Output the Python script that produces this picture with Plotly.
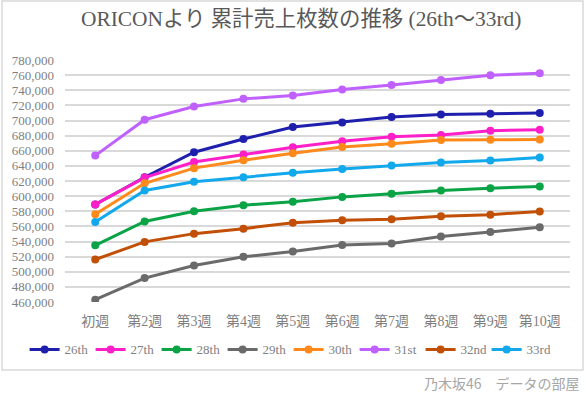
import plotly.graph_objects as go

weeks = ["初週", "第2週", "第3週", "第4週", "第5週", "第6週", "第7週", "第8週", "第9週", "第10週"]

s26 = [589000, 625000, 658000, 675500, 691500, 697500, 704500, 708000, 709000, 710000]
s27 = [589000, 624500, 645000, 655000, 664500, 672500, 678500, 680800, 686500, 687800]
s28 = [535000, 566500, 580000, 588000, 592600, 599000, 603000, 607500, 610500, 612800]
s29 = [463000, 491600, 508300, 519700, 526700, 535500, 537300, 546500, 552600, 558800]
s30 = [576000, 617000, 637000, 647400, 656700, 665000, 669400, 674200, 674500, 675000]
s31 = [653600, 701000, 718500, 728600, 733000, 741000, 747000, 753700, 759800, 762400]
s32 = [516200, 539500, 550400, 557000, 564900, 568000, 569300, 573300, 575500, 579800]
s33 = [565800, 607500, 619000, 625000, 630800, 636000, 640400, 644400, 647000, 651000]

series_names = ["26th", "27th", "28th", "29th", "30th", "31st", "32nd", "33rd"]
series_values = [s26, s27, s28, s29, s30, s31, s32, s33]
colors = ["#1f1fae", "#ff1fc8", "#0aa346", "#6a6a6a", "#ff8a1c", "#c060ff", "#c24f06", "#12a8ec"]

y_ticks = list(range(460000, 780001, 20000))

SERIF = "'Liberation Serif', 'Times New Roman', 'Noto Sans CJK JP', serif"

fig = go.Figure()
for name, vals, col in zip(series_names, series_values, colors):
    fig.add_trace(go.Scatter(
        x=weeks, y=vals, name=name, mode="lines+markers",
        line=dict(color=col, width=3),
        marker=dict(color=col, size=8),
    ))

fig.update_layout(
    width=586, height=396,
    margin=dict(l=65, r=16, t=60, b=94, autoexpand=False),
    paper_bgcolor="white", plot_bgcolor="white",
    title=dict(text="ORICONより 累計売上枚数の推移 (26th～33rd)",
               x=0.514, xanchor="center", y=0.952, yanchor="middle",
               font=dict(family=SERIF, size=21.4, color="#595959")),
    xaxis=dict(showgrid=False, showline=False, zeroline=False, ticks="",
               ticklabelstandoff=9,
               tickfont=dict(family=SERIF, size=14, color="#7f7f7f")),
    yaxis=dict(range=[460000, 780000], tickvals=y_ticks,
               ticktext=[f"{v:,}" for v in y_ticks],
               showgrid=True, gridcolor="#d9d9d9", gridwidth=1.5,
               zeroline=False, showline=False, ticks="",
               ticklabelstandoff=10,
               tickfont=dict(family=SERIF, size=13, color="#7f7f7f")),
    legend=dict(orientation="h", x=-0.08, xanchor="left",
                y=-0.196, yanchor="middle",
                entrywidth=21, entrywidthmode="pixels",
                font=dict(family=SERIF, size=13, color="#7f7f7f"),
                bgcolor="rgba(0,0,0,0)"),
    showlegend=True,
)

# chart frame
fig.add_shape(type="rect", xref="paper", yref="paper",
              x0=(2 - 65) / 505, x1=(583 - 65) / 505,
              y0=(302 - 370) / 242, y1=(302 - 1) / 242,
              line=dict(color="#d9d9d9", width=1.5), fillcolor="rgba(0,0,0,0)", layer="below")

fig.add_annotation(text="乃木坂46　データの部屋", xref="paper", yref="paper",
                   x=(582 - 65) / 505, xanchor="right", y=(302 - 383) / 242, yanchor="middle",
                   showarrow=False,
                   font=dict(family="'Noto Sans CJK JP', sans-serif", size=14, color="#a6a6a6"))

fig.write_html("out.html", config={"displayModeBar": False},
               post_script="document.body.style.margin='0';")
